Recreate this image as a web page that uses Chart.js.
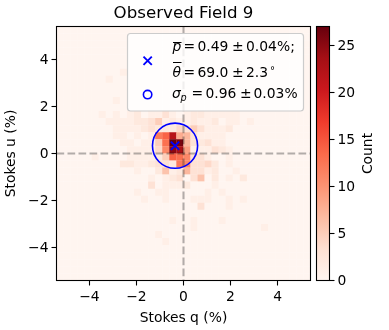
<!DOCTYPE html>
<html>
<head>
<meta charset="utf-8">
<style>
html,body{margin:0;padding:0;background:#fff;width:389px;height:330px;overflow:hidden}
canvas{position:absolute;top:0}
#main{left:0}
#bar{left:300px}
</style>
<script src="https://cdn.jsdelivr.net/npm/chart.js@4/dist/chart.umd.js"></script>
</head>
<body>
<canvas id="main" width="389" height="330"></canvas>
<canvas id="bar" width="89" height="330"></canvas>
<script>
const chartTitle = 'Observed Field 9';
const xLabel = 'Stokes q (%)';
const yLabel = 'Stokes u (%)';
const barLabel = 'Count';
const axisLimit = 5.4;
const binWidth = 0.3;
const axisTicks = [-4, -2, 0, 2, 4];
const barTicks = [0, 5, 10, 15, 20, 25];
const barMax = 27;
const meanPoint = {q: -0.36, u: 0.33};
const sigmaP = 0.96;
// 36 x 36 histogram, first row is the top of the plot, first column the left
const counts = [
[0,0,0,0,0,0,0,0,0,0,0,0,0,0,0,0,0,0,0,0,0,0,0,0,0,0,0,0,0,0,0,0,0,0,0,0],
[0,0,0,0,0,0,0,0,0,0,0,0,0,0,0,0,0,0,0,0,0,0,0,0,0,0,0,0,0,0,0,0,0,0,0,0],
[0,0,0,0,0,0,0,0,0,0,0,0,0,0,0,0,0,0,0,0,0,0,0,0,0,0,0,0,0,0,0,0,0,0,0,0],
[0,0,0,0,0,0,0,0,0,0,0,0,0,0,0,0,0,0,0,0,0,0,0,0,0,0,0,0,0,0,0,0,0,0,0,0],
[0,0,0,0,0,0,0,0,0,0,0,0,0,0,0,0,0,0,0,0,0,0,0,0,0,0,0,0,0,0,0,0,0,0,0,0],
[0,0,0,0,0,0,0,0,0,0,0,0,0,0,0,0,0,0,0,0,0,0,0,0,0,0,0,0,0,0,0,0,0,0,0,0],
[0,0,0,0,0,0,0,0,0,1,0,0,0,0,0,0,0,0,0,0,0,0,0,0,0,0,0,0,0,0,0,0,0,0,0,0],
[0,0,0,0,0,0,0,1,0,0,0,0,0,0,0,0,0,0,0,0,0,0,0,0,0,0,0,0,0,0,0,0,0,0,0,0],
[0,0,0,0,0,0,0,0,0,0,0,0,0,0,0,0,0,0,0,0,0,0,0,0,0,0,0,0,0,0,0,0,0,0,0,0],
[0,0,0,0,0,0,0,0,0,0,0,0,0,0,0,0,0,0,0,0,0,0,0,0,0,0,0,0,0,0,0,0,0,0,0,0],
[0,0,0,0,0,0,0,0,1,0,0,0,0,0,0,0,0,0,0,0,0,0,0,0,0,0,0,0,0,0,0,0,0,0,0,0],
[0,0,0,0,0,0,0,0,0,0,0,0,0,0,0,0,0,0,0,0,0,0,0,0,0,0,0,0,0,0,0,0,0,0,0,0],
[0,0,0,0,0,0,1,0,1,0,1,2,0,1,1,3,1,0,1,2,2,1,1,1,1,1,0,0,0,0,0,0,0,0,0,0],
[0,0,0,0,0,0,0,1,1,1,1,2,2,3,5,1,2,1,1,2,1,1,2,0,1,1,0,1,0,0,0,0,0,0,0,0],
[0,0,0,0,0,0,0,0,1,1,1,1,2,3,2,2,2,4,3,5,3,1,1,1,2,0,0,0,0,0,0,0,0,0,0,0],
[0,0,0,0,0,0,0,0,1,1,0,1,0,1,12,14,22,8,7,3,1,1,1,1,0,0,0,0,0,0,0,0,0,0,0,0],
[0,0,0,0,0,0,0,0,0,1,1,0,1,1,5,13,27,26,7,3,2,3,1,1,0,0,0,0,0,0,0,0,0,0,0,0],
[0,0,0,0,0,0,0,0,0,0,1,1,1,1,4,11,25,23,9,1,1,1,3,2,1,0,0,0,0,0,0,0,0,0,0,0],
[0,0,0,0,0,1,0,0,0,0,1,1,1,1,2,5,14,13,11,3,3,1,0,0,1,0,0,0,0,0,0,0,0,0,0,0],
[0,0,0,0,0,0,0,0,0,2,2,1,1,2,3,3,2,12,11,3,3,4,2,0,1,0,0,0,0,0,0,0,0,0,0,0],
[0,0,0,0,0,0,0,0,0,0,0,1,0,0,2,6,1,2,7,3,3,1,2,0,0,1,0,0,0,0,0,0,0,0,0,0],
[0,0,0,0,0,0,0,0,0,0,0,0,0,1,0,1,2,3,0,3,6,0,2,0,1,0,2,0,0,0,0,0,0,0,0,0],
[0,0,0,0,0,0,0,0,0,0,0,0,0,3,0,1,1,1,2,0,0,0,1,0,0,0,0,0,0,0,0,0,0,0,0,0],
[0,0,0,0,0,0,0,0,0,0,0,1,0,0,1,1,0,0,0,0,0,1,0,1,0,0,0,0,0,0,0,0,0,0,0,0],
[0,0,0,0,0,0,0,0,0,0,0,0,1,0,0,1,0,0,0,1,1,1,0,0,1,0,1,0,0,0,0,0,0,0,0,0],
[0,0,0,0,0,0,0,0,0,0,0,0,0,0,0,0,0,0,0,0,3,0,0,0,1,0,0,0,0,0,0,0,0,0,0,0],
[0,0,0,0,0,0,0,0,0,0,0,0,0,0,0,0,0,0,0,0,0,0,0,0,0,0,0,0,0,0,0,0,0,0,0,0],
[0,0,0,0,0,0,0,0,0,0,0,0,0,0,0,0,1,0,0,1,0,0,0,1,0,0,0,0,0,0,0,0,0,0,0,0],
[0,0,0,0,0,0,0,0,0,0,0,0,0,0,0,0,0,0,0,1,0,0,0,0,0,0,0,0,0,1,0,0,0,0,0,0],
[0,0,0,0,0,0,0,0,0,0,0,0,0,0,1,0,0,0,0,0,0,0,0,0,0,0,0,0,0,0,0,0,0,0,0,0],
[0,0,0,0,0,0,0,0,0,0,0,0,0,0,0,1,0,0,0,0,0,0,0,0,0,0,0,0,0,0,0,0,0,0,0,0],
[0,0,0,0,0,0,0,0,0,0,0,0,0,0,0,0,0,0,0,0,0,0,0,0,0,0,0,0,0,0,0,0,0,0,0,0],
[0,0,0,0,0,0,0,0,0,0,0,0,0,0,0,0,0,0,0,0,0,0,0,0,0,0,0,0,0,0,0,0,0,0,0,0],
[0,0,0,0,0,0,0,0,0,0,0,0,0,0,0,0,0,0,0,0,0,0,0,0,0,0,0,0,0,0,0,0,0,0,0,0],
[0,0,0,0,0,0,0,0,0,0,0,0,0,0,0,0,0,0,0,0,0,0,0,0,0,0,0,0,0,0,0,0,0,0,0,0],
[0,0,0,0,0,0,0,0,0,0,0,0,0,0,0,0,0,0,0,0,0,0,0,0,0,0,0,0,0,0,0,0,0,0,0,0]
];

const redsStops = [[255,245,240],[254,224,210],[252,187,161],[252,146,114],[251,106,74],[239,59,44],[203,24,29],[165,15,21],[103,0,13]];
function redsColor(t){
  const f = Math.min(Math.max(t,0),1)*(redsStops.length-1);
  const i = Math.min(Math.floor(f), redsStops.length-2), a = f-i;
  const c = redsStops[i].map((v,k)=>Math.round(v+(redsStops[i+1][k]-v)*a));
  return `rgb(${c[0]},${c[1]},${c[2]})`;
}

const FONT = '"DejaVu Sans"';
Chart.defaults.font.family = FONT;
Chart.defaults.color = '#000';

const cellPoints = [], cellColors = [];
counts.forEach((row,r)=>row.forEach((v,c)=>{
  cellPoints.push({x:-axisLimit+binWidth*(c+0.5), y:axisLimit-binWidth*(r+0.5)});
  cellColors.push(redsColor(v/barMax));
}));

const unitPx = chart => chart.scales.x.getPixelForValue(1)-chart.scales.x.getPixelForValue(0);
const minus = v => String(v).replace('-','\u2212');

const frame = {
  id:'frame',
  afterDatasetsDraw(chart){
    const a = chart.chartArea, c = chart.ctx;
    c.save(); c.strokeStyle='#000'; c.lineWidth=1.1;
    c.strokeRect(a.left,a.top,a.right-a.left,a.bottom-a.top);
    c.restore();
  }
};

// matplotlib centres digits a little lower than the canvas "middle" baseline
const nudgeYLabels = {
  id:'nudgeYLabels',
  afterLayout(chart){
    const s = chart.scales.y;
    if(s._nudged) return;
    s._nudged = true;
    const draw = s.drawLabels;
    s.drawLabels = function(area){
      const c = this.ctx; c.save(); c.translate(0,1); draw.call(this,area); c.restore();
    };
  }
};

const legendBox = {
  id:'legendBox',
  afterDraw(chart){
    const c = chart.ctx;
    c.save();
    c.beginPath(); c.roundRect(127.5,33.5,176,77.5,3);
    c.fillStyle='rgba(255,255,255,0.8)'; c.fill();
    c.strokeStyle='#cccccc'; c.lineWidth=1.2; c.stroke();
    // markers
    c.strokeStyle='#0000ff'; c.lineWidth=1.9;
    c.beginPath(); c.moveTo(143.5,56.6); c.lineTo(151.8,64.9); c.moveTo(151.8,56.6); c.lineTo(143.5,64.9); c.stroke();
    c.lineWidth=1.6;
    c.beginPath(); c.arc(147.6,94.6,4.2,0,Math.PI*2); c.stroke();
    // text
    c.fillStyle='#000'; c.textBaseline='alphabetic'; c.textAlign='left';
    const reg='13.89px '+FONT, ita='italic 13.89px '+FONT, sub='italic 9.7px '+FONT;
    const put=(s,x,y,f)=>{c.font=f;c.fillText(s,x,y);};
    put('p',172.5,51,ita); put('=',183.6,51,reg); put('0.49',197.5,51,reg); put('\u00b1',232,51,reg); put('0.04',246,51,reg); put('%;',277,51,reg);
    put('\u03b8',172.5,76.5,ita); put('=',183.6,76.5,reg); put('69.0',197.5,76.5,reg); put('\u00b1',232,76.5,reg); put('2.3',246,76.5,reg); put('\u00b0',270,74,'10px '+FONT);
    put('\u03c3',172,97.7,ita); put('p',180.5,100.5,sub); put('=',191.6,97.7,reg); put('0.96',205.5,97.7,reg); put('\u00b1',240,97.7,reg); put('0.03',253.5,97.7,reg); put('%',284.5,97.7,reg);
    c.strokeStyle='#000'; c.lineWidth=1;
    c.beginPath(); c.moveTo(173,42.5); c.lineTo(181.5,42.5); c.moveTo(173,62.5); c.lineTo(181.5,62.5); c.stroke();
    c.restore();
  }
};

const tickFont = {size:13.89, family:FONT};

new Chart(document.getElementById('main'),{
  type:'scatter',
  data:{datasets:[
    {label:'cells', order:4, data:cellPoints, pointStyle:'rect',
     pointBackgroundColor:cellColors, pointBorderWidth:0,
     pointRadius:ctx=>(unitPx(ctx.chart)*binWidth+0.25)*Math.SQRT1_2},
    {label:'u0', order:3, type:'line', data:[{x:-axisLimit,y:0},{x:axisLimit,y:0}], borderColor:'rgba(0,0,0,0.3)', borderWidth:2.08, borderDash:[7.7,3.3], pointRadius:0, fill:false},
    {label:'q0', order:3, type:'line', data:[{x:0,y:axisLimit},{x:0,y:-axisLimit}], borderColor:'rgba(0,0,0,0.3)', borderWidth:2.08, borderDash:[7.7,3.3], pointRadius:0, fill:false},
    {label:'sigma', order:2, data:[{x:meanPoint.q,y:meanPoint.u}], pointStyle:'circle', pointBackgroundColor:'rgba(0,0,0,0)', pointBorderColor:'#0000ff', pointBorderWidth:1.6,
     pointRadius:ctx=>sigmaP*unitPx(ctx.chart)},
    {label:'mean', order:1, data:[{x:meanPoint.q,y:meanPoint.u}], pointStyle:'crossRot', pointBorderColor:'#0000ff', pointBorderWidth:1.9, pointRadius:5.9}
  ]},
  options:{
    responsive:false, animation:false, devicePixelRatio:1,
    layout:{padding:{left:0,right:78.5,top:0.5,bottom:0}},
    plugins:{
      legend:{display:false}, tooltip:{enabled:false},
      title:{display:true,text:chartTitle,fullSize:false,color:'#000',font:{size:16.67,family:FONT,weight:'normal',lineHeight:1.2},padding:{top:3,bottom:3}}
    },
    scales:{
      x:{type:'linear',min:-axisLimit,max:axisLimit,
        afterBuildTicks:s=>{s.ticks=axisTicks.map(v=>({value:v}));},
        afterFit:s=>{s.height=49.5;},
        border:{display:false},
        grid:{drawOnChartArea:false,drawTicks:true,tickLength:5,tickWidth:1.1,tickColor:'#000'},
        ticks:{font:tickFont,color:'#000',padding:4,autoSkip:false,maxRotation:0,callback:minus},
        title:{display:true,text:xLabel,color:'#000',font:tickFont,padding:{top:3,bottom:3}}
      },
      y:{type:'linear',min:-axisLimit,max:axisLimit,
        afterBuildTicks:s=>{s.ticks=axisTicks.map(v=>({value:v}));},
        afterFit:s=>{s.width=56.5;},
        border:{display:false},
        grid:{drawOnChartArea:false,drawTicks:true,tickLength:5,tickWidth:1.1,tickColor:'#000'},
        ticks:{font:tickFont,color:'#000',padding:3,autoSkip:false,callback:minus},
        title:{display:true,text:yLabel,color:'#000',font:tickFont,padding:{top:3,bottom:1}}
      }
    }
  },
  plugins:[nudgeYLabels,frame,legendBox]
});

const barTitle = {
  id:'barTitle',
  afterDraw(chart){
    const c=chart.ctx, a=chart.chartArea;
    c.save();
    c.translate(68,(a.top+a.bottom)/2); c.rotate(-Math.PI/2);
    c.font='13.89px '+FONT; c.fillStyle='#000'; c.textAlign='center'; c.textBaseline='middle';
    c.fillText(barLabel,0,0);
    c.restore();
  }
};

new Chart(document.getElementById('bar'),{
  type:'bar',
  data:{labels:[barLabel],datasets:[{data:[barMax],barPercentage:1,categoryPercentage:1,borderWidth:0,
    backgroundColor:ctx=>{
      const a=ctx.chart.chartArea; if(!a) return '#fff';
      const g=ctx.chart.ctx.createLinearGradient(0,a.bottom,0,a.top);
      redsStops.forEach((s,i)=>g.addColorStop(i/(redsStops.length-1),`rgb(${s[0]},${s[1]},${s[2]})`));
      return g;
    }}]},
  options:{
    responsive:false, animation:false, devicePixelRatio:1,
    layout:{padding:{left:16.5,right:0,top:26.5,bottom:49.5}},
    plugins:{legend:{display:false},tooltip:{enabled:false},title:{display:false}},
    scales:{
      x:{display:false},
      y:{position:'right',min:0,max:barMax,
        afterBuildTicks:s=>{s.ticks=barTicks.map(v=>({value:v}));},
        afterFit:s=>{s.width=59.5;},
        border:{display:false},
        grid:{drawOnChartArea:false,drawTicks:true,tickLength:5,tickWidth:1.1,tickColor:'#000'},
        ticks:{font:tickFont,color:'#000',padding:3,autoSkip:false}
      }
    }
  },
  plugins:[nudgeYLabels,frame,barTitle]
});
</script>
</body>
</html>
